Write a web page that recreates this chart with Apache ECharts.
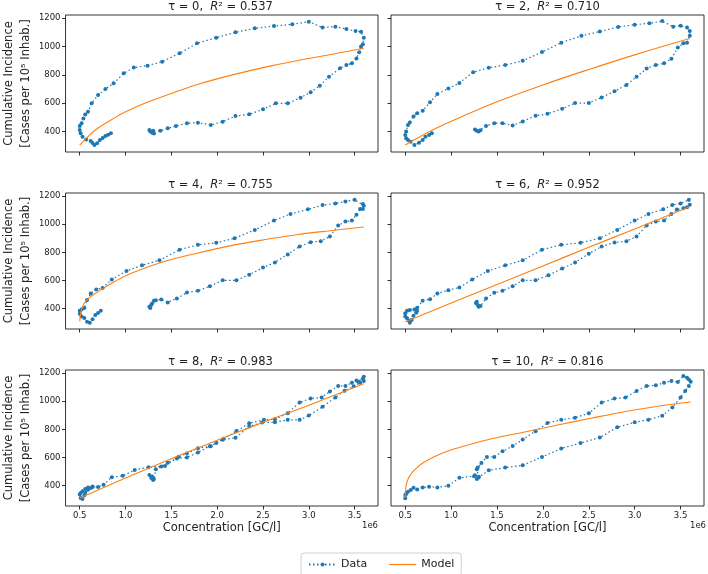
<!DOCTYPE html>
<html>
<head>
<meta charset="utf-8">
<script src="https://cdn.jsdelivr.net/npm/echarts@6/dist/echarts.min.js"></script>
<style>
  html, body { margin: 0; padding: 0; background: #fff; }
  #chart { width: 708px; height: 574px; }
</style>
</head>
<body>
<div id="chart"></div>
<script>
// concentration in 1e6 GC/l, cumulative incidence per 1e5 inhabitants
const tau0Data = [[1.27,400],[1.26,412],[1.29,392],[1.31,386],[1.30,405],[1.38,405],[1.46,423],[1.55,439],[1.67,458],[1.79,463],[1.93,446],[2.06,470],[2.20,510],[2.35,522],[2.50,557],[2.64,599],[2.77,599],[2.91,639],[3.02,677],[3.12,724],[3.22,787],[3.34,846],[3.41,869],[3.47,881],[3.52,916],[3.55,960],[3.57,1000],[3.59,1015],[3.60,1062],[3.57,1104],[3.51,1109],[3.41,1123],[3.29,1140],[3.15,1133],[3.00,1175],[2.82,1156],[2.62,1144],[2.41,1128],[2.20,1100],[1.99,1062],[1.78,1022],[1.59,952],[1.40,893],[1.24,865],[1.09,851],[0.98,811],[0.87,740],[0.78,700],[0.70,658],[0.63,599],[0.59,540],[0.56,520],[0.54,493],[0.52,458],[0.50,440],[0.50,411],[0.51,388],[0.53,364],[0.57,345],[0.62,334],[0.64,320],[0.66,305],[0.69,317],[0.72,341],[0.75,355],[0.78,369],[0.81,378],[0.84,388]];
const tau2Data = [[1.26,415],[1.28,405],[1.30,400],[1.32,410],[1.38,440],[1.47,459],[1.56,459],[1.67,443],[1.78,471],[1.92,511],[2.05,525],[2.21,561],[2.35,601],[2.50,601],[2.64,641],[2.78,684],[2.91,729],[3.02,786],[3.13,845],[3.23,869],[3.32,881],[3.40,914],[3.47,992],[3.53,1023],[3.57,1027],[3.60,1075],[3.60,1110],[3.57,1134],[3.50,1146],[3.42,1139],[3.30,1179],[3.16,1164],[3.00,1153],[2.82,1138],[2.62,1105],[2.42,1075],[2.20,1027],[1.99,961],[1.78,899],[1.59,869],[1.41,850],[1.24,819],[1.09,743],[0.97,703],[0.85,665],[0.77,606],[0.69,547],[0.63,530],[0.59,506],[0.55,464],[0.53,447],[0.51,400],[0.50,376],[0.51,353],[0.53,341],[0.56,329],[0.60,305],[0.65,322],[0.69,341],[0.72,364],[0.76,376],[0.79,388]];
const tau4Data = [[1.26,414],[1.27,405],[1.28,426],[1.29,438],[1.31,456],[1.33,461],[1.39,466],[1.46,445],[1.56,473],[1.67,515],[1.79,527],[1.92,560],[2.06,602],[2.21,602],[2.35,642],[2.50,692],[2.63,729],[2.77,786],[2.90,842],[3.02,873],[3.13,880],[3.23,913],[3.32,991],[3.40,1019],[3.47,1026],[3.52,1068],[3.56,1108],[3.59,1108],[3.60,1132],[3.59,1144],[3.50,1174],[3.40,1162],[3.29,1148],[3.15,1136],[2.99,1106],[2.80,1073],[2.62,1026],[2.41,960],[2.19,901],[1.99,868],[1.79,854],[1.59,819],[1.37,744],[1.18,708],[1.01,668],[0.85,607],[0.75,548],[0.68,536],[0.62,508],[0.58,462],[0.55,405],[0.52,395],[0.50,385],[0.50,365],[0.52,345],[0.55,335],[0.58,308],[0.61,300],[0.64,325],[0.67,355],[0.70,370],[0.73,385]];
const tau6Data = [[1.28,449],[1.27,440],[1.29,426],[1.30,414],[1.32,420],[1.38,473],[1.47,513],[1.56,527],[1.67,560],[1.78,602],[1.92,602],[2.06,638],[2.21,685],[2.35,729],[2.50,791],[2.64,842],[2.78,871],[2.91,880],[3.02,913],[3.13,991],[3.23,1019],[3.32,1026],[3.40,1073],[3.46,1104],[3.53,1113],[3.57,1120],[3.60,1139],[3.59,1174],[3.50,1148],[3.41,1136],[3.31,1106],[3.15,1073],[3.00,1026],[2.81,960],[2.62,901],[2.41,868],[2.20,854],[1.99,819],[1.78,744],[1.59,708],[1.40,668],[1.23,607],[1.09,551],[0.97,532],[0.85,508],[0.77,468],[0.69,456],[0.63,407],[0.60,395],[0.55,391],[0.52,386],[0.50,367],[0.50,344],[0.52,332],[0.54,315],[0.55,301],[0.57,320],[0.59,351],[0.62,372],[0.63,386]];
const tau8Data = [[1.26,477],[1.28,454],[1.29,465],[1.31,447],[1.30,440],[1.33,517],[1.39,536],[1.46,564],[1.56,594],[1.67,601],[1.79,636],[1.92,681],[2.06,727],[2.20,741],[2.35,821],[2.49,849],[2.63,851],[2.77,868],[2.90,868],[3.00,898],[3.15,961],[3.29,1027],[3.39,1074],[3.49,1106],[3.56,1132],[3.60,1144],[3.60,1174],[3.59,1160],[3.54,1139],[3.52,1148],[3.47,1132],[3.40,1109],[3.32,1109],[3.23,1069],[3.14,1027],[3.02,1020],[2.90,992],[2.77,915],[2.63,872],[2.51,868],[2.35,844],[2.21,788],[2.07,734],[1.99,704],[1.93,681],[1.79,667],[1.67,629],[1.58,606],[1.43,540],[1.25,531],[1.10,512],[0.97,470],[0.85,461],[0.76,407],[0.70,391],[0.64,391],[0.59,388],[0.56,377],[0.53,360],[0.51,349],[0.50,337],[0.51,313],[0.53,306],[0.55,330],[0.56,349],[0.59,372],[0.62,384],[0.64,395]];
const tau10Data = [[1.28,447],[1.26,475],[1.30,463],[1.28,517],[1.29,529],[1.33,562],[1.39,604],[1.47,604],[1.56,644],[1.67,682],[1.78,728],[1.92,787],[2.05,846],[2.20,869],[2.35,883],[2.50,914],[2.64,991],[2.78,1019],[2.90,1026],[3.02,1073],[3.13,1108],[3.23,1113],[3.32,1132],[3.40,1144],[3.47,1137],[3.53,1179],[3.57,1167],[3.59,1155],[3.61,1139],[3.59,1108],[3.55,1073],[3.50,1026],[3.41,956],[3.30,897],[3.15,869],[3.00,850],[2.81,815],[2.62,743],[2.41,703],[2.20,665],[1.99,604],[1.78,545],[1.59,529],[1.41,510],[1.30,459],[1.25,468],[1.09,456],[0.97,400],[0.85,388],[0.76,393],[0.69,388],[0.63,374],[0.59,386],[0.56,370],[0.53,358],[0.51,341],[0.50,334],[0.50,311]];

// fitted model curves
const tau0Model = [[0.5,305],[0.6,372],[0.7,425],[0.85,485],[1.0,540],[1.25,610],[1.5,668],[1.8,735],[2.2,805],[2.6,865],[3.0,915],[3.6,987]];
const tau2Model = [[0.5,305],[0.75,395],[1.0,472],[1.5,610],[2.0,729],[2.5,838],[3.0,941],[3.6,1056]];
const tau4Model = [[0.5,310],[0.525,405],[0.58,464],[0.706,523],[0.886,595],[1.07,654],[1.43,737],[1.79,796],[2.15,848],[2.51,890],[2.87,926],[3.23,954],[3.6,980]];
const tau6Model = [[0.5,308],[1.0,440],[1.5,572],[2.0,704],[2.5,836],[3.0,967],[3.6,1125]];
const tau8Model = [[0.5,313],[1.0,455],[1.5,592],[2.0,723],[2.5,850],[3.0,972],[3.6,1125]];
const tau10Model = [[0.5,315],[0.505,380],[0.52,430],[0.55,470],[0.6,512],[0.7,565],[0.9,630],[1.07,668],[1.43,732],[1.8,782],[2.16,831],[2.52,879],[2.89,926],[3.25,965],[3.61,995]];

const tauValues = [0, 2, 4, 6, 8, 10];
const r2Values = ['0.537', '0.710', '0.755', '0.952', '0.983', '0.816'];
const xTicks = [0.5, 1.0, 1.5, 2.0, 2.5, 3.0, 3.5];
const yTicks = [400, 600, 800, 1000, 1200];

const allData = [tau0Data, tau2Data, tau4Data, tau6Data, tau8Data, tau10Data];
const allModel = [tau0Model, tau2Model, tau4Model, tau6Model, tau8Model, tau10Model];

const FONT = 'DejaVu Sans';
const colLeft = [63, 391];
const colWidth = [315, 313];
const rowTop = [15, 193, 370];
const rowHeight = [137, 136, 136];
const titleY = [7, 185, 362];

let grids = [], xAxes = [], yAxes = [], series = [], graphics = [];
for (let i = 0; i < 6; i++) {
  const r = Math.floor(i / 2), c = i % 2;
  grids.push({
    left: colLeft[c], top: rowTop[r], width: colWidth[c], height: rowHeight[r],
    show: true, borderColor: '#000', borderWidth: 0.8, backgroundColor: 'transparent'
  });
  xAxes.push({
    type: 'value', gridIndex: i, min: 0.345, max: 3.755,
    axisLine: {show: false},
    splitLine: {show: false},
    axisTick: {show: true, customValues: xTicks, length: 3.5, lineStyle: {color: '#000', width: 0.8}},
    axisLabel: {
      show: r === 2, customValues: xTicks, fontSize: 8.5, fontFamily: FONT, color: '#222', margin: 5,
      formatter: v => v.toFixed(1)
    },
    name: r === 2 ? 'Concentration [GC/l]' : '',
    nameLocation: 'middle', nameGap: 16,
    nameTextStyle: {fontSize: 11.5, fontFamily: FONT, color: '#222'}
  });
  yAxes.push({
    type: 'value', gridIndex: i, min: 256, max: 1222,
    axisLine: {show: false},
    splitLine: {show: false},
    axisTick: {show: true, customValues: yTicks, length: 3.5, lineStyle: {color: '#000', width: 0.8}},
    axisLabel: {
      show: c === 0, customValues: yTicks, fontSize: 8.5, fontFamily: FONT, color: '#222', margin: 5,
      formatter: v => String(v)
    },
    name: c === 0 ? 'Cumulative Incidence\n[Cases per 10⁵ Inhab.]' : '',
    nameLocation: 'middle', nameGap: 24, nameRotate: 90,
    nameTextStyle: {fontSize: 11.5, lineHeight: 17, fontFamily: FONT, color: '#222'}
  });
  series.push({
    name: 'Data', type: 'line', xAxisIndex: i, yAxisIndex: i,
    data: allData[i],
    symbol: 'circle', symbolSize: 4, showAllSymbol: true,
    itemStyle: {color: '#1f77b4'},
    lineStyle: {color: '#1f77b4', width: 1.2, type: [1.5, 2.5]},
    z: 2
  });
  series.push({
    name: 'Model', type: 'line', xAxisIndex: i, yAxisIndex: i,
    data: allModel[i], smooth: 0.4, symbol: 'none',
    itemStyle: {color: '#ff7f0e'},
    lineStyle: {color: '#ff7f0e', width: 1.1},
    z: 3
  });
  graphics.push({
    type: 'text', x: colLeft[c] + colWidth[c] / 2, y: titleY[r],
    style: {
      text: '{m|τ = ' + tauValues[i] + ',  }{i|R}{m|² = ' + r2Values[i] + '}',
      textAlign: 'center', textVerticalAlign: 'middle',
      rich: {
        m: {fontSize: 11.5, fontFamily: FONT, fill: '#222'},
        i: {fontSize: 11.5, fontFamily: FONT, fontStyle: 'italic', fill: '#222'}
      }
    }
  });
}
graphics.push({type: 'text', x: 370, y: 526, style: {text: '1e6', font: '8.5px "DejaVu Sans"', fill: '#222', textAlign: 'center', textVerticalAlign: 'middle'}});
graphics.push({type: 'text', x: 698, y: 526, style: {text: '1e6', font: '8.5px "DejaVu Sans"', fill: '#222', textAlign: 'center', textVerticalAlign: 'middle'}});

const chart = echarts.init(document.getElementById('chart'), null, {renderer: 'canvas'});
chart.setOption({
  animation: false,
  backgroundColor: '#fff',
  grid: grids,
  xAxis: xAxes,
  yAxis: yAxes,
  legend: {
    data: [{name: 'Data'}, {name: 'Model', icon: 'path://M0,0H27V1.2H0Z'}],
    left: 301, top: 553,
    itemWidth: 27, itemHeight: 5, itemGap: 22,
    padding: [6, 7],
    borderColor: '#d0d0d0', borderWidth: 1, borderRadius: 3,
    textStyle: {fontSize: 11, fontFamily: FONT, color: '#222'}
  },
  graphic: graphics,
  series: series
});
</script>
</body>
</html>
